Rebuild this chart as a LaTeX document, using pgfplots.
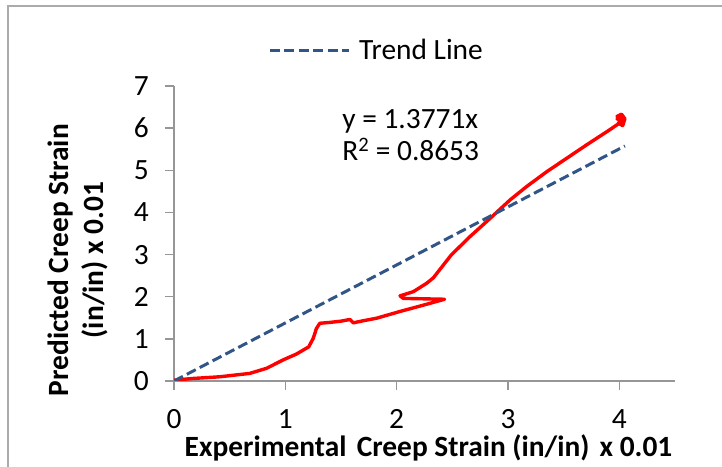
\documentclass[border=0pt]{standalone}
\usepackage{fontspec}
\setmainfont{Carlito}
\usepackage{pgfplots}
\pgfplotsset{compat=1.18}

\definecolor{trendblue}{RGB}{50,85,135}
\definecolor{axisgray}{RGB}{150,150,150}
\newcommand{\chartfont}{\fontsize{29.5}{35}\selectfont}

\begin{document}
\begin{tikzpicture}
\path[use as bounding box] (0,0) rectangle (722bp,467bp);
\draw[axisgray!80, line width=1.5bp] (8bp,-5bp) -- (8bp,461bp) -- (730bp,461bp);
\begin{axis}[
  at={(174bp,86bp)}, anchor=south west,
  scale only axis, width=501bp, height=295bp,
  xmin=0, xmax=4.5, ymin=0, ymax=7,
  xtick={0,1,2,3,4}, ytick={0,1,...,7},
  axis x line*=bottom, axis y line*=left,
  axis line style={-, draw=axisgray, line width=1.5bp},
  tick align=outside, major tick length=9bp,
  tick style={axisgray, line width=1.5bp},
  /pgf/number format/assume math mode=true,
  ticklabel style={font=\chartfont, inner sep=0pt},
  xticklabel style={anchor=north, yshift=-19bp},
  yticklabel style={anchor=east, xshift=-16bp},
  xlabel={\bfseries Experimental\hspace{0.12em} Creep Strain (in/in)\hspace{0.12em} x 0.01},
  xlabel style={at={(axis description cs:0.5,0)}, anchor=base, inner sep=0pt, yshift=-75bp, xshift=4bp, font=\chartfont},
  ylabel={\bfseries Predicted Creep Strain\\\bfseries (in/in) x 0.01},
  ylabel style={at={(axis description cs:-0.1916,0.41)}, anchor=center, align=center, rotate=0, inner sep=0pt, font=\chartfont},
  legend style={draw=none, fill=none, at={(axis description cs:0.1876,1.122)}, anchor=west, font=\chartfont, inner sep=0pt},
  legend image code/.code={\draw[#1] (0bp,0bp) -- (79bp,0bp);},
  legend cell align=left,
  legend style={nodes={inner sep=0pt}, /tikz/every odd column/.append style={column sep=9bp}},
]
\addplot[red, line width=3.4bp, line join=round, forget plot] coordinates {
(0,0.02) (0.17,0.06) (0.41,0.10) (0.68,0.18) (0.83,0.30) (0.98,0.50)
(1.10,0.64) (1.21,0.81) (1.25,1.01) (1.28,1.25) (1.31,1.37) (1.40,1.39)
(1.50,1.42) (1.58,1.46) (1.61,1.38) (1.70,1.43) (1.82,1.49) (2.03,1.65)
(2.24,1.80) (2.43,1.94) (2.06,1.96) (2.03,2.02) (2.15,2.12) (2.27,2.32)
(2.33,2.45) (2.41,2.72) (2.49,2.99) (2.66,3.43) (2.84,3.86) (3.02,4.30)
(3.17,4.62) (3.35,4.97) (3.53,5.29) (3.71,5.61) (3.89,5.92) (3.98,6.08)
(4.01,6.14) (3.98,6.28) (4.02,6.33) (4.05,6.22) (4.03,6.06) (3.99,6.12)
(4.03,6.18) (3.98,6.22) (4.01,6.28) (4.04,6.12)
};
\addplot[trendblue, line width=3bp, dash pattern=on 10bp off 4.5bp] coordinates {(0,0) (4.05,5.577)};
\addlegendentry{Trend Line}
\node[anchor=base west, inner sep=0pt, font=\chartfont] at (axis cs:1.51,5.99) {y = 1.3771x};
\node[anchor=base west, inner sep=0pt, font=\chartfont] at (axis cs:1.51,5.23) {R\textsuperscript{2} = 0.8653};
\end{axis}
\end{tikzpicture}
\end{document}
